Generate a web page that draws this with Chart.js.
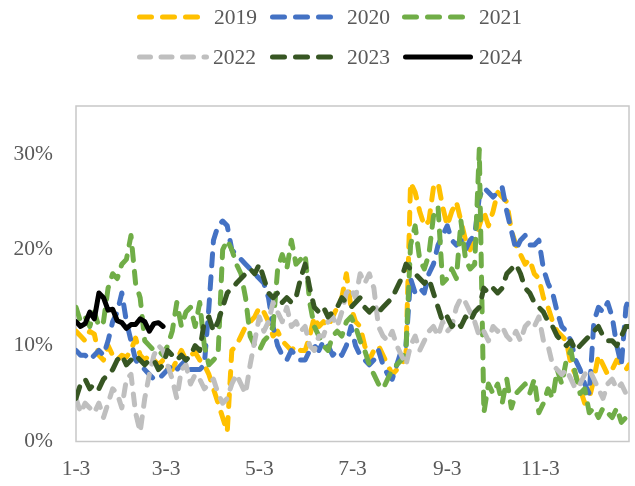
<!DOCTYPE html>
<html><head><meta charset="utf-8">
<script src="https://cdn.jsdelivr.net/npm/chart.js@4.4.1/dist/chart.umd.min.js"></script>
<style>html,body{margin:0;padding:0;background:#fff;}canvas{display:block;}</style>
</head><body>
<canvas id="c" width="635" height="486"></canvas>
<script>
// x positions: days counted from Jan 3
const days = [0,3,6,9,12,15,18,21,24,27,
30,33,36,39,42,45,48,51,54,57,
60,63,66,69,72,75,78,81,84,87,
90,93,96,99,102,105,108,111,114,117,
120,123,126,129,132,135,138,141,144,147,
150,153,156,159,162,165,168,171,174,177,
180,183,186,189,192,195,198,201,204,207,
210,213,216,219,222,225,228,231,234,237,
240,243,246,249,252,255,258,261,264,267,
270,273,276,279,282,285,288,291,294,297,
300,303,306,309,312,315,318,321,324,327,
330,333,336,339,342,345,348,351,354,357,
360,362];
const tickDays = [0,59,120,181,243,304];
const tickLabels = ['1-3','3-3','5-3','7-3','9-3','11-3'];
const yTicks = [0,10,20,30];
const years = ['2019','2020','2021','2022','2023','2024'];

const v2019 = [11.5,11.0,10.5,11.5,11.2,9.0,8.5,10.0,9.0,8.5,
9.0,8.8,9.5,10.8,9.0,8.5,9.0,8.5,8.0,8.5,
7.5,7.5,8.5,9.5,8.5,9.0,9.3,8.5,8.0,7.0,
5.5,4.0,2.5,1.0,9.5,10.0,11.0,12.0,12.5,13.0,
14.0,13.5,12.5,11.0,11.5,10.5,10.0,9.5,10.0,9.5,
9.5,11.0,13.0,12.0,12.5,12.0,13.0,14.0,15.0,17.5,
14.0,12.5,12.0,10.0,8.5,9.5,10.0,9.0,8.0,7.0,
7.5,8.0,9.0,27.0,26.0,24.0,22.5,23.0,26.5,27.0,
24.5,22.5,24.0,25.0,23.0,21.0,20.0,21.0,22.5,24.0,
22.5,24.0,26.0,25.5,25.0,22.0,20.5,19.5,18.5,19.0,
17.5,17.0,15.0,14.0,12.5,11.5,11.0,10.5,8.0,7.0,
5.5,4.0,4.5,6.5,9.0,8.0,7.0,7.5,8.5,8.0,
7.5,8.0];
const v2020 = [9.5,9.0,9.0,8.5,9.0,9.5,9.0,10.5,12.5,13.5,
15.5,12.5,10.5,8.5,8.0,7.5,7.0,6.5,6.5,7.0,
7.5,8.0,7.5,8.0,8.5,7.5,7.5,7.5,8.0,14.0,
21.0,22.5,23.0,22.5,20.0,19.5,19.0,18.5,18.0,17.5,
17.0,16.5,15.0,12.0,10.0,9.0,8.5,9.5,9.0,8.5,
8.5,9.5,10.0,9.5,10.5,10.0,9.0,9.5,9.0,10.0,
12.0,10.0,9.0,8.5,8.0,8.5,9.5,8.0,7.0,6.5,
8.0,9.5,10.0,17.0,15.5,16.0,15.5,17.5,18.5,20.5,
21.5,22.5,21.0,20.5,21.0,20.0,21.0,21.5,25.5,26.5,
26.0,25.5,26.0,26.5,24.0,22.0,20.0,21.0,21.5,20.5,
20.5,21.0,18.0,16.5,15.5,13.5,12.0,11.5,10.5,8.5,
7.5,6.0,5.0,12.5,14.0,13.5,14.5,13.0,10.0,8.0,
14.0,15.0];
const v2021 = [14.0,12.5,13.0,12.0,13.5,12.0,12.5,16.0,17.5,17.0,
18.5,19.0,21.5,16.5,15.0,10.5,10.0,9.5,9.5,9.0,
10.0,11.5,14.5,12.0,13.5,14.0,12.0,14.5,10.0,8.0,
8.5,9.0,20.0,21.0,20.0,18.5,17.5,15.0,11.0,10.0,
9.5,10.5,11.0,12.0,18.0,19.5,18.0,21.0,18.5,19.0,
19.5,14.5,12.0,11.0,10.0,9.5,11.0,11.5,11.0,12.5,
13.0,12.0,10.5,9.5,8.0,7.0,6.0,5.5,6.5,7.5,
8.0,8.5,9.5,20.5,22.5,19.0,18.0,19.5,23.5,24.5,
16.5,17.0,18.0,17.0,23.0,19.0,18.0,18.5,30.5,3.0,
6.0,5.0,6.0,4.0,6.5,3.5,5.0,5.5,6.0,5.0,
6.5,3.0,4.0,5.5,4.5,7.5,6.0,8.5,9.5,7.0,
5.0,5.5,3.0,3.5,2.5,3.5,3.0,2.5,3.5,2.0,
2.5,2.0];
const v2022 = [4.5,3.0,4.0,3.5,3.0,4.0,2.5,4.0,5.5,5.0,
3.5,6.5,7.0,3.0,1.0,4.5,7.0,9.0,10.0,9.5,
8.0,6.5,4.5,7.5,8.0,6.0,7.0,6.5,5.5,6.0,
6.5,5.0,4.0,4.5,6.0,7.0,6.0,5.0,8.0,10.5,
13.0,11.5,12.5,14.5,13.5,12.5,14.0,12.0,12.5,11.5,
12.0,10.0,9.5,11.0,11.0,12.5,13.0,12.0,13.5,15.5,
16.0,15.0,17.5,16.5,17.5,16.0,12.0,11.0,10.5,11.5,
10.0,9.0,8.0,10.0,11.0,9.5,10.5,11.5,12.0,11.0,
12.5,11.5,12.0,14.0,15.0,14.5,13.5,12.5,11.0,11.5,
10.5,12.0,11.5,12.0,11.0,10.5,11.5,10.5,12.0,12.5,
12.0,13.0,10.5,10.0,8.0,7.5,7.0,7.5,6.5,5.5,
6.0,7.0,7.5,6.5,5.5,4.5,6.0,6.5,5.5,6.0,
5.0,4.5];
const v2023 = [4.5,6.0,6.5,5.5,6.0,5.5,6.5,7.0,7.5,8.5,
9.0,8.0,8.5,9.0,8.5,8.0,8.5,8.5,7.5,8.0,
9.5,9.0,8.5,9.0,8.5,9.0,10.0,9.5,12.5,13.0,
11.5,12.5,14.0,15.5,16.0,16.5,17.0,17.5,18.0,17.5,
18.5,17.0,15.5,15.0,15.5,14.5,15.0,14.5,15.0,17.0,
18.5,16.0,14.0,13.5,14.0,13.0,13.5,14.0,15.0,14.5,
14.0,14.5,15.0,14.0,13.5,14.0,13.5,14.0,14.5,15.0,
16.0,17.0,18.5,18.0,17.5,17.0,16.5,17.0,15.5,14.0,
12.5,13.0,12.0,12.5,12.0,13.0,12.5,13.5,14.0,16.0,
15.5,16.0,15.5,16.0,17.5,18.0,18.5,17.5,16.0,15.5,
14.5,14.0,13.5,12.5,12.0,11.0,10.5,10.0,10.5,9.5,
10.0,10.5,11.0,11.5,12.0,11.0,10.5,10.5,10.0,11.0,
12.0,12.0];
const v2024 = [12.5,12.0,12.3,13.5,12.8,15.5,15.0,13.7,13.8,12.6,
12.4,11.8,12.2,12.2,12.8,12.5,11.5,12.3,12.4,12.0];

const seriesValues = [v2019, v2020, v2021, v2022, v2023, v2024];
const colors = ['#FFC000','#4472C4','#70AD47','#BFBFBF','#375623','#000000'];
const dashes = [[12,11],[12,11],[12,11],[11,10.5],[12,11],[]];
const FONT = '"Liberation Serif", "Times New Roman", serif';
const TXT = '#595959';

// legend layout (pixel placement only)
const legendSlots = [
  {x1:137,x2:201,tx:214,y:17},
  {x1:270,x2:334,tx:347,y:17},
  {x1:402,x2:466,tx:479,y:17},
  {x1:137,x2:209,tx:213,y:57},
  {x1:270,x2:334,tx:347,y:57},
  {x1:403,x2:473,tx:479,y:57}
];

const datasets = years.map((yr, i) => ({
  label: yr,
  data: seriesValues[i].map((v, j) => ({x: days[j], y: v})),
  borderColor: colors[i],
  backgroundColor: colors[i],
  borderWidth: 5,
  borderDash: dashes[i],
  borderCapStyle: 'round',
  borderJoinStyle: 'round',
  pointRadius: 0,
  pointHoverRadius: 0,
  fill: false,
  tension: 0,
  order: 6 - i
}));

const boxPlugin = {
  id: 'box',
  beforeDatasetsDraw(chart) {
    const {ctx, chartArea: a} = chart;
    ctx.save();
    ctx.strokeStyle = '#C8C8C8';
    ctx.lineWidth = 1.5;
    ctx.strokeRect(a.left, a.top, a.right - a.left, a.bottom - a.top);
    ctx.restore();
  }
};

const legendPlugin = {
  id: 'customLegend',
  afterDraw(chart) {
    const ctx = chart.ctx;
    ctx.save();
    chart.data.datasets.forEach((ds, i) => {
      const s = legendSlots[i];
      ctx.beginPath();
      ctx.strokeStyle = ds.borderColor;
      ctx.lineWidth = 5;
      ctx.lineCap = 'round';
      ctx.setLineDash(ds.borderDash);
      ctx.moveTo(s.x1 + 2.5, s.y);
      ctx.lineTo(s.x2 - 2.5, s.y);
      ctx.stroke();
      ctx.setLineDash([]);
      ctx.fillStyle = TXT;
      ctx.font = '21.5px ' + FONT;
      ctx.textAlign = 'left';
      ctx.textBaseline = 'middle';
      ctx.fillText(ds.label, s.tx, s.y + 1);
    });
    ctx.restore();
  }
};

new Chart(document.getElementById('c'), {
  type: 'line',
  data: {datasets},
  plugins: [boxPlugin, legendPlugin],
  options: {
    responsive: false,
    animation: false,
    events: [],
    layout: {padding: {top: 106, right: 6, bottom: 0, left: 0}},
    plugins: {legend: {display: false}, tooltip: {enabled: false}},
    scales: {
      x: {
        type: 'linear', min: 0, max: 362,
        afterBuildTicks: s => { s.ticks = tickDays.map(v => ({value: v})); },
        afterFit: s => { s.height = 44.5; },
        grid: {display: false, drawTicks: false},
        border: {display: false},
        ticks: {
          autoSkip: false, maxRotation: 0, minRotation: 0, padding: 15,
          color: TXT, font: {family: FONT, size: 21.5},
          callback: v => { const k = tickDays.indexOf(v); return k >= 0 ? tickLabels[k] : ''; }
        }
      },
      y: {
        type: 'linear', min: 0, max: 35,
        afterBuildTicks: s => { s.ticks = yTicks.map(v => ({value: v})); },
        afterFit: s => { s.width = 76; },
        grid: {display: false, drawTicks: false},
        border: {display: false},
        ticks: {
          padding: 23, color: TXT, font: {family: FONT, size: 21.5},
          callback: v => v + '%'
        }
      }
    }
  }
});
</script>
</body></html>
